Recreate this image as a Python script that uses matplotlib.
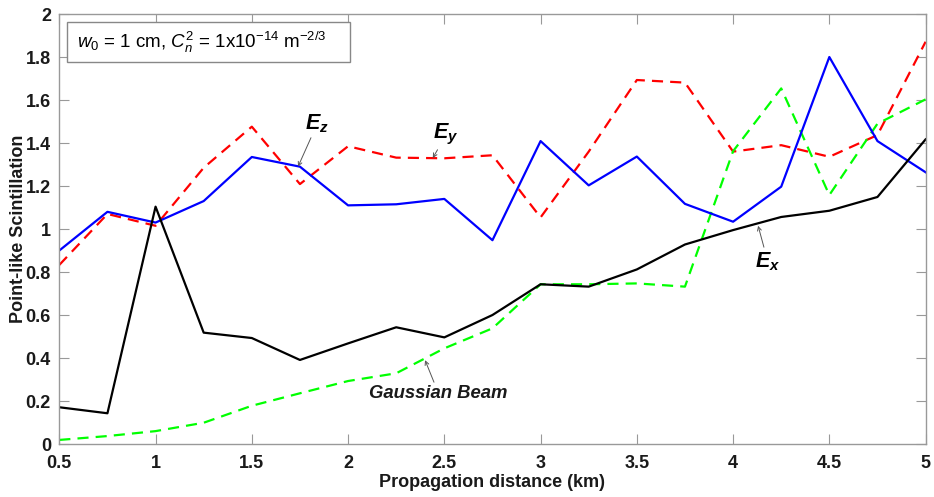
import numpy as np
import matplotlib
matplotlib.use('Agg')
import matplotlib.pyplot as plt
from matplotlib.patches import Rectangle

# Fonts (Arial-like)
plt.rcParams['font.family'] = ['Liberation Sans', 'DejaVu Sans']
plt.rcParams['mathtext.fontset'] = 'custom'
plt.rcParams['mathtext.rm'] = 'Liberation Sans'
plt.rcParams['mathtext.it'] = 'Liberation Sans:italic'
plt.rcParams['mathtext.bf'] = 'Liberation Sans:bold'
plt.rcParams['mathtext.bfit'] = 'Liberation Sans:italic:bold'

# Data
distance = [0.5, 0.75, 1.0, 1.25, 1.5, 1.75, 2.0, 2.25, 2.5, 2.75,
            3.0, 3.25, 3.5, 3.75, 4.0, 4.25, 4.5, 4.75, 5.0]
ez = [0.90, 1.08, 1.03, 1.13, 1.335, 1.29, 1.11, 1.115, 1.14, 0.948,
      1.409, 1.203, 1.337, 1.117, 1.034, 1.197, 1.80, 1.409, 1.264]
ey = [0.833, 1.07, 1.015, 1.285, 1.476, 1.209, 1.385, 1.332, 1.329, 1.343,
      1.054, 1.36, 1.693, 1.681, 1.36, 1.39, 1.336, 1.437, 1.871]
ex = [0.171, 0.143, 1.104, 0.518, 0.493, 0.391, 0.468, 0.543, 0.496, 0.60,
      0.743, 0.732, 0.812, 0.928, 0.995, 1.056, 1.085, 1.149, 1.417]
gauss = [0.019, 0.037, 0.06, 0.099, 0.178, 0.236, 0.293, 0.329, 0.445, 0.538,
         0.743, 0.743, 0.747, 0.732, 1.362, 1.654, 1.158, 1.49, 1.603]

xticks = [0.5, 1, 1.5, 2, 2.5, 3, 3.5, 4, 4.5, 5]
xticklabels = ['0.5', '1', '1.5', '2', '2.5', '3', '3.5', '4', '4.5', '5']
yticks = [0, 0.2, 0.4, 0.6, 0.8, 1, 1.2, 1.4, 1.6, 1.8, 2]
yticklabels = ['0', '0.2', '0.4', '0.6', '0.8', '1', '1.2', '1.4', '1.6', '1.8', '2']

fig = plt.figure(figsize=(9.34, 4.97), dpi=100)
ax = fig.add_axes([0.0635, 0.1066, 0.9275, 0.8652])

lw = 1.6
ax.plot(distance, ey, '--', color='#ff0000', lw=lw, dashes=(5, 3.2))
ax.plot(distance, gauss, '--', color='#00ff00', lw=lw, dashes=(5, 3.2))
ax.plot(distance, ez, '-', color='#0000ff', lw=lw)
ax.plot(distance, ex, '-', color='black', lw=lw)

ax.set_xlim(0.5, 5)
ax.set_ylim(0, 2)
ax.set_xticks(xticks)
ax.set_xticklabels(xticklabels)
ax.set_yticks(yticks)
ax.set_yticklabels(yticklabels)
ax.tick_params(direction='in', length=7, width=0.8, color='#999999',
               top=True, right=True, labelsize=13)
ax.tick_params(axis='x', pad=8)
ax.tick_params(axis='y', pad=6)
for lbl in ax.get_xticklabels() + ax.get_yticklabels():
    lbl.set_fontweight('bold')
    lbl.set_color('#1a1a1a')
for sp in ax.spines.values():
    sp.set_color('#999999')
    sp.set_linewidth(1.0)

ax.set_xlabel('Propagation distance (km)', fontsize=13, fontweight='bold',
              color='#1a1a1a', labelpad=1)
ax.set_ylabel('Point-like Scintillation', fontsize=13, fontweight='bold',
              color='#1a1a1a', labelpad=-1)

# Parameter box
ax.add_patch(Rectangle((0.009, 0.888), 0.327, 0.093, transform=ax.transAxes,
                       fc='white', ec='#888888', lw=1.0, zorder=5))
ax.text(0.0205, 0.933, r'$\mathit{w_0}$ = 1 cm, $C_n^{2}$ = 1x10$^{-14}$ m$^{-2/3}$',
        transform=ax.transAxes, fontsize=13.5, va='center', ha='left', zorder=6)

# Curve labels with arrows
arrow = dict(arrowstyle='->', color='#555555', lw=0.7, shrinkA=0, shrinkB=0,
             mutation_scale=7)
ax.annotate(r'$\mathbfit{E}_{\mathbfit{z}}$', xy=(1.74, 1.29), xytext=(1.84, 1.49),
            fontsize=15.5, ha='center', va='center', arrowprops=arrow)
ax.annotate(r'$\mathbfit{E}_{\mathbfit{y}}$', xy=(2.44, 1.33), xytext=(2.51, 1.44),
            fontsize=15.5, ha='center', va='center', arrowprops=arrow)
ax.annotate(r'$\mathbfit{E}_{\mathbfit{x}}$', xy=(4.13, 1.015), xytext=(4.18, 0.85),
            fontsize=15.5, ha='center', va='center', arrowprops=arrow)
ax.annotate('Gaussian Beam', xy=(2.4, 0.39), xytext=(2.47, 0.235),
            fontsize=13.3, fontweight='bold', fontstyle='italic',
            ha='center', va='center', color='#1a1a1a', arrowprops=arrow)

fig.savefig('out.png', dpi=100)
